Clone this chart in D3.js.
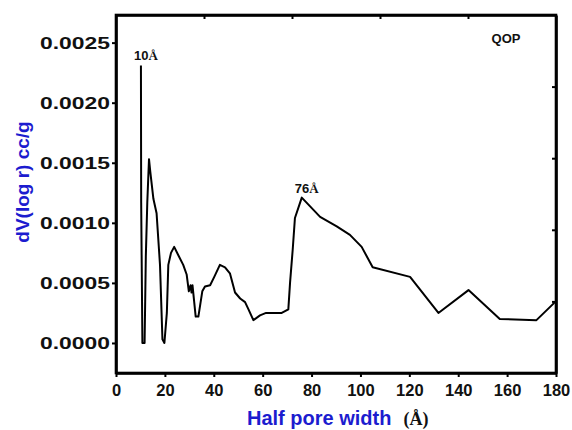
<!DOCTYPE html>
<html>
<head>
<meta charset="utf-8">
<script src="https://cdn.jsdelivr.net/npm/d3@7"></script>
<style>
  html, body { margin: 0; padding: 0; background: #fff; }
  svg { display: block; }
  text { font-family: Arial, "Liberation Sans", sans-serif; font-weight: bold; }
</style>
</head>
<body>
<div id="chart"></div>
<script>
// Pore size distribution (QOP): half pore width (Å) vs dV(log r) (cc/g)
const poreWidth = [10.2, 10.3, 10.8, 11.7, 12.2, 12.8, 13.5, 14.0, 15.3, 16.6, 18.0, 19.0, 19.8,
  20.8, 21.4, 22.5, 23.8, 25.5, 27.5, 28.9, 29.8, 30.5, 30.9, 31.3, 32.6, 33.7, 35.3, 36.4,
  38.5, 40.2, 42.5, 44.6, 46.6, 48.7, 50.8, 52.8, 54.2, 56.2, 58.9, 61.4, 64.4, 67.8, 70.5,
  71.2, 72.3, 73.2, 76.0, 83.5, 90.3, 95.7, 100.5, 105.0, 120.3, 131.9, 144.2, 157.0, 172.0, 179.6];
const dVlogr = [0.00231, 0.00117, 0.0, 0.0, 0.00072, 0.00117, 0.00153, 0.00143, 0.00120, 0.00108,
  0.00065, 0.00003, 0.0, 0.00025, 0.00065, 0.00075, 0.00080, 0.00073, 0.00065, 0.00057,
  0.00043, 0.00048, 0.00042, 0.00048, 0.00022, 0.00022, 0.00043, 0.00047, 0.00048, 0.00055,
  0.00065, 0.00063, 0.00058, 0.00042, 0.00037, 0.00034, 0.00028, 0.00019, 0.00023, 0.00025,
  0.00025, 0.00025, 0.00028, 0.00050, 0.00078, 0.00104, 0.00121, 0.00105, 0.00097, 0.00090,
  0.00080, 0.00063, 0.00055, 0.00025, 0.00044, 0.00020, 0.00019, 0.00034];
const xTicks = [0, 20, 40, 60, 80, 100, 120, 140, 160, 180];
const yTicks = [0, 0.0005, 0.0010, 0.0015, 0.0020, 0.0025];
const peakLabels = [{ x: 10.2, y: 0.00231, text: "10" }, { x: 76.0, y: 0.00121, text: "76" }];
const sampleName = "QOP";

const W = 572, H = 430;
const margin = { left: 116, right: 16, top: 15, bottom: 57 };

const svg = d3.select("#chart").append("svg").attr("width", W).attr("height", H);

const x = d3.scaleLinear().domain([0, 180]).range([margin.left, W - margin.right]);
const y = d3.scaleLinear().domain([-0.00025, 0.00273]).range([H - margin.bottom, margin.top]);

const blue = "#1c1ccf";
const serif = "'Liberation Serif', 'Times New Roman', serif";

// Data curve
const line = d3.line().x((d, i) => x(poreWidth[i])).y(d => y(d));
svg.append("path")
  .datum(dVlogr)
  .attr("d", line)
  .attr("fill", "none")
  .attr("stroke", "#000")
  .attr("stroke-width", 2)
  .attr("stroke-linejoin", "round");

// Bottom axis
const gx = svg.append("g")
  .attr("transform", `translate(0,${H - margin.bottom})`)
  .call(d3.axisBottom(x).tickValues(xTicks).tickFormat(d3.format("d")).tickSize(4).tickSizeOuter(0));
gx.selectAll("text").attr("font-size", 16.5).attr("dy", "0.95em").attr("fill", "#111");

// Left axis (wide bold tick labels)
const gy = svg.append("g")
  .attr("transform", `translate(${margin.left},0)`)
  .call(d3.axisLeft(y).tickValues(yTicks).tickFormat(d3.format(".4f")).tickSize(4).tickSizeOuter(0));
gy.selectAll("text")
  .attr("font-size", 17)
  .attr("fill", "#111")
  .attr("x", -6)
  .attr("textLength", 70)
  .attr("lengthAdjust", "spacingAndGlyphs");

// Top and right axes with inward ticks
const topTicks = d3.range(1, 5).map(i => 180 * i / 5);
svg.append("g")
  .attr("transform", `translate(0,${margin.top})`)
  .call(d3.axisTop(x).tickValues(topTicks).tickFormat("").tickSize(-4).tickSizeOuter(0));
const yd = y.domain();
const rightTicks = d3.range(1, 5).map(i => yd[0] + (yd[1] - yd[0]) * i / 5);
svg.append("g")
  .attr("transform", `translate(${W - margin.right},0)`)
  .call(d3.axisRight(y).tickValues(rightTicks).tickFormat("").tickSize(-4).tickSizeOuter(0));

svg.selectAll(".domain").attr("stroke", "#000").attr("stroke-width", 2.6);
svg.selectAll(".tick line").attr("stroke", "#000").attr("stroke-width", 2);

// Frame
svg.append("rect")
  .attr("x", margin.left).attr("y", margin.top)
  .attr("width", W - margin.left - margin.right)
  .attr("height", H - margin.top - margin.bottom)
  .attr("fill", "none").attr("stroke", "#000").attr("stroke-width", 2.6);

// Axis titles
svg.append("text")
  .attr("transform", `translate(29,${(y(0.00273) + y(-0.00025)) / 2 - 12}) rotate(-90)`)
  .attr("text-anchor", "middle")
  .attr("font-size", 19)
  .attr("fill", blue)
  .text("dV(log r) cc/g");

const xt = svg.append("text")
  .attr("x", 247).attr("y", 425)
  .attr("text-anchor", "start")
  .attr("font-size", 20);
xt.append("tspan").attr("fill", blue).text("Half pore width");
xt.append("tspan").attr("fill", "#111").attr("font-size", 18).attr("dx", 12)
  .attr("font-family", serif).text("(Å)");

// Peak annotations
peakLabels.forEach(p => {
  const t = svg.append("text")
    .attr("x", x(p.x) + 5).attr("y", y(p.y) - 5)
    .attr("text-anchor", "middle")
    .attr("font-size", 13)
    .attr("fill", "#111");
  t.append("tspan").text(p.text);
  t.append("tspan").attr("font-family", serif).text("Å");
});

// Sample name
svg.append("text")
  .attr("x", 506).attr("y", 43)
  .attr("text-anchor", "middle")
  .attr("font-size", 13)
  .attr("fill", "#111")
  .text(sampleName);
</script>
</body>
</html>
